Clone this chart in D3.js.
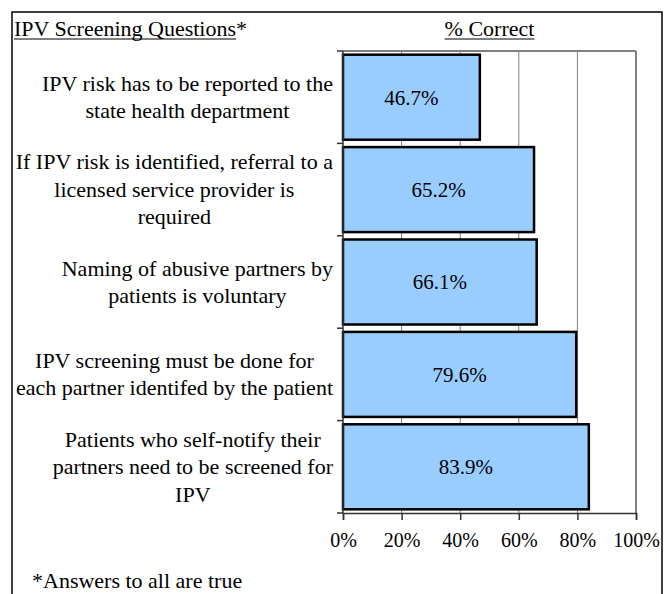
<!DOCTYPE html>
<html>
<head>
<meta charset="utf-8">
<script src="https://cdn.jsdelivr.net/npm/d3@7"></script>
<style>
  body { margin: 0; background: #fff; }
  text { font-family: "Liberation Serif", "Times New Roman", serif; fill: #000; }
</style>
</head>
<body>
<div id="chart"></div>
<script>
// question labels, already broken into lines as in the original
var QUESTIONS = [
  ["IPV risk has to be reported to the", "state health department"],
  ["If IPV risk is identified, referral to a", "licensed service provider is", "required"],
  ["Naming of abusive partners by", "patients is voluntary"],
  ["IPV screening must be done for", "each partner identifed by the patient"],
  ["Patients who self-notify their", "partners need to be screened for", "IPV"]
];
var PCT_CORRECT = [46.7, 65.2, 66.1, 79.6, 83.9];
var X_TICKS = [0, 20, 40, 60, 80, 100];

var W = 669, H = 594;
var plotL = 343, plotR = 636, plotT = 51, plotB = 513;

var svg = d3.select("#chart").append("svg")
  .attr("width", W)
  .attr("height", H);

// outer frame
svg.append("rect")
  .attr("x", 12).attr("y", 12)
  .attr("width", 650).attr("height", 600)
  .attr("fill", "none").attr("stroke", "#000").attr("stroke-width", 1.5);

var x = d3.scaleLinear().domain([0, 100]).range([plotL, plotR]);
var yOuter = d3.scaleBand().domain(d3.range(QUESTIONS.length)).range([plotT, plotB]);
var y = d3.scaleBand().domain(d3.range(QUESTIONS.length)).range([plotT, plotB])
  .paddingInner(0.08).paddingOuter(0.04);

// gridlines + plot border (gray)
svg.append("g").selectAll("line")
  .data(X_TICKS.slice(1))
  .enter().append("line")
  .attr("x1", function(d) { return x(d); })
  .attr("x2", function(d) { return x(d); })
  .attr("y1", plotT).attr("y2", plotB)
  .attr("stroke", "#808080")
  .attr("stroke-width", function(d) { return d == 100 ? 2 : 1; });
svg.append("line")
  .attr("x1", plotL).attr("x2", plotR)
  .attr("y1", plotT).attr("y2", plotT)
  .attr("stroke", "#808080").attr("stroke-width", 2);

// bars
svg.append("g").selectAll("rect")
  .data(PCT_CORRECT)
  .enter().append("rect")
  .attr("x", x(0))
  .attr("y", function(d, i) { return y(i); })
  .attr("width", function(d) { return x(d) - x(0); })
  .attr("height", y.bandwidth())
  .attr("fill", "#99ccff")
  .attr("stroke", "#000")
  .attr("stroke-width", 2.5);

// value labels
svg.append("g").selectAll("text")
  .data(PCT_CORRECT)
  .enter().append("text")
  .attr("x", function(d) { return (x(0) + x(d)) / 2; })
  .attr("y", function(d, i) { return y(i) + y.bandwidth() / 2; })
  .attr("dy", "0.35em")
  .attr("text-anchor", "middle")
  .style("font-size", "21px")
  .text(function(d) { return d.toFixed(1) + "%"; });

// left axis (category ticks on band edges)
var yEdges = QUESTIONS.map(function(q, i) { return yOuter(i); }).concat([plotB]);
svg.append("line")
  .attr("x1", plotL).attr("x2", plotL)
  .attr("y1", plotT).attr("y2", plotB)
  .attr("stroke", "#333").attr("stroke-width", 1.5);
svg.append("g").selectAll("line")
  .data(yEdges)
  .enter().append("line")
  .attr("x1", plotL - 6).attr("x2", plotL)
  .attr("y1", function(d) { return d; })
  .attr("y2", function(d) { return d; })
  .attr("stroke", "#333").attr("stroke-width", 1.5);

// bottom axis
var xAxis = svg.append("g")
  .attr("transform", "translate(0," + plotB + ")")
  .call(d3.axisBottom(x).tickValues(X_TICKS).tickSize(7).tickPadding(13)
    .tickFormat(function(d) { return d + "%"; }));
xAxis.select(".domain").attr("stroke", "#333").attr("stroke-width", 1.5);
xAxis.selectAll(".tick line").attr("stroke", "#333").attr("stroke-width", 1.5);
xAxis.selectAll(".tick text")
  .attr("fill", "#000")
  .style("font-family", "'Liberation Serif', 'Times New Roman', serif")
  .style("font-size", "20px");

// category labels, centred lines, block right-aligned near the axis
var lineH = 27.5, labelRight = 333;
QUESTIONS.forEach(function(lines, i) {
  var cy = yOuter(i) + yOuter.bandwidth() / 2;
  var g = svg.append("g");
  var texts = g.selectAll("text")
    .data(lines)
    .enter().append("text")
    .attr("text-anchor", "middle")
    .style("font-size", "22px")
    .attr("y", function(d, j) { return cy + (j - (lines.length - 1) / 2) * lineH; })
    .attr("dy", "0.33em")
    .text(function(d) { return d; });
  var maxW = d3.max(texts.nodes(), function(n) { return n.getComputedTextLength(); });
  texts.attr("x", labelRight - maxW / 2);
});

// headers
var h1 = svg.append("text")
  .attr("x", 14).attr("y", 36)
  .style("font-size", "22px");
h1.append("tspan").text("IPV Screening Questions");
h1.append("tspan").text("*");
var h1w = h1.node().getSubStringLength(0, "IPV Screening Questions".length);
svg.append("line")
  .attr("x1", 14).attr("x2", 14 + h1w)
  .attr("y1", 39).attr("y2", 39)
  .attr("stroke", "#000").attr("stroke-width", 1.2);

var h2 = svg.append("text")
  .attr("x", (plotL + plotR) / 2).attr("y", 36)
  .attr("text-anchor", "middle")
  .style("font-size", "22px")
  .text("% Correct");
var h2w = h2.node().getComputedTextLength();
svg.append("line")
  .attr("x1", (plotL + plotR) / 2 - h2w / 2).attr("x2", (plotL + plotR) / 2 + h2w / 2)
  .attr("y1", 39).attr("y2", 39)
  .attr("stroke", "#000").attr("stroke-width", 1.2);

// footnote
svg.append("text")
  .attr("x", 32).attr("y", 588)
  .style("font-size", "22px")
  .text("*Answers to all are true");
</script>
</body>
</html>
